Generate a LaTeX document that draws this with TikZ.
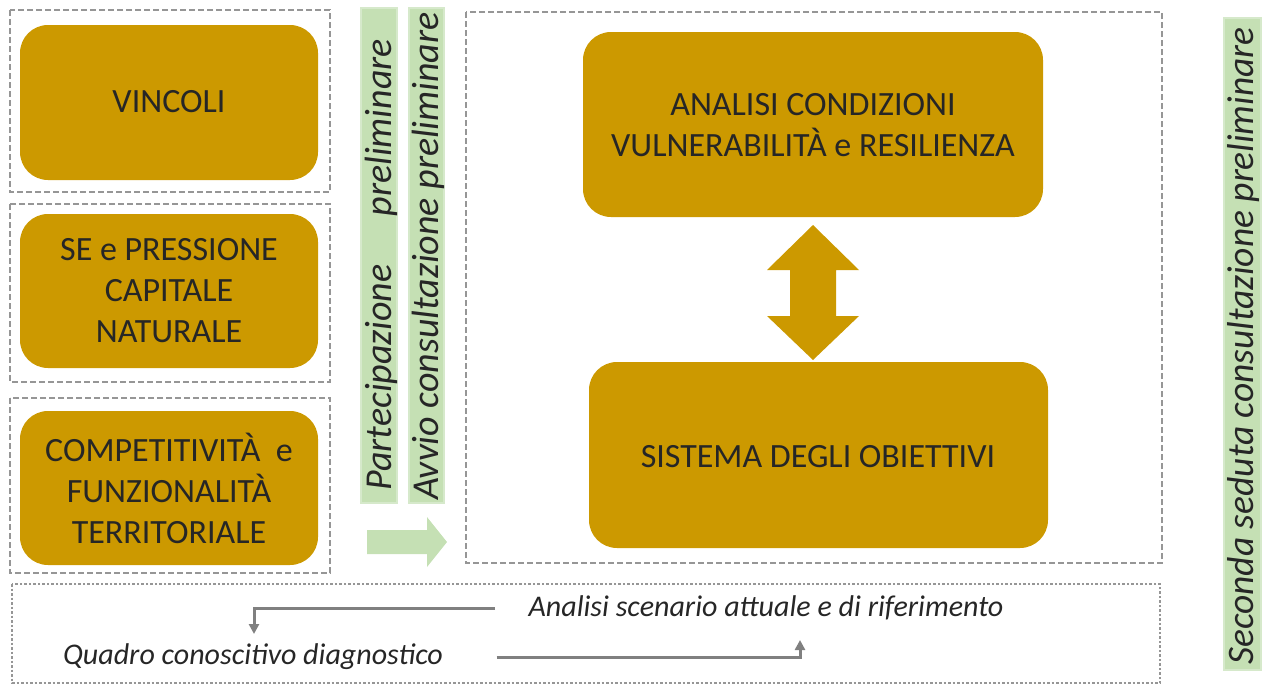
\documentclass[tikz,border=0pt]{standalone}
\usepackage{fontspec}
\setmainfont{Carlito}
\usetikzlibrary{arrows.meta}
\definecolor{gold}{RGB}{204,153,0}
\definecolor{lgreen}{RGB}{197,224,180}
\definecolor{dgray}{RGB}{150,150,150}
\definecolor{agray}{RGB}{128,128,128}
\definecolor{txt}{RGB}{38,38,38}
\tikzset{
  frame/.style={draw=dgray, line width=2pt, dash pattern=on 6pt off 3pt},
  dotframe/.style={draw=dgray, line width=2.5pt, dash pattern=on 2.5pt off 2pt},
  goldbox/.style={fill=gold, rounded corners=28pt},
  goldtext/.style={text=txt, align=center, font=\fontsize{34}{41}\selectfont},
  gbar/.style={fill=lgreen, draw=lgreen!70!white, line width=2pt},
  vtext/.style={rotate=90, text=txt, font=\fontsize{38}{44}\selectfont\itshape},
  btext/.style={text=txt, font=\fontsize{30}{34}\selectfont\itshape},
  garrow/.style={draw=agray, line width=3pt, -{Triangle[width=10pt,length=10pt]}}
}
\begin{document}
\begin{tikzpicture}[x=1pt,y=-1pt]
\useasboundingbox (0,0) rectangle (1272,686);
% left frames
\draw[frame] (10,10) rectangle (330,192);
\draw[frame] (10,204) rectangle (330,382);
\draw[frame] (10,398) rectangle (330,573);
\fill[goldbox] (20,25) rectangle (318,180);
\node[goldtext] (vinc) at (169,102) {VINCOLI};
\fill[goldbox] (20,214) rectangle (318,368);
\node[goldtext] (se) at (169,291) {SE e PRESSIONE\\CAPITALE\\NATURALE};
\fill[goldbox] (20,411) rectangle (318,565);
\node[goldtext] (comp) at (169,488) {COMPETITIVIT\`A\ \ e\\FUNZIONALIT\`A\\TERRITORIALE};
% green bars
\fill[gbar] (361,8) rectangle (397,503);
\node[vtext] (part) at (381,265) {Partecipazione\hspace{48pt}preliminare};
\fill[gbar] (409,8) rectangle (444,503);
\node[vtext] (avvio) at (428,256) {Avvio consultazione preliminare};
\fill[lgreen] (367,530) -- (427,530) -- (427,517) -- (447,542) -- (427,567) -- (427,554) -- (367,554) -- cycle;
% main frame
\draw[frame] (466,12) rectangle (1162,563);
\fill[goldbox] (583,32) rectangle (1043,217);
\node[goldtext] (anal) at (813,125) {ANALISI CONDIZIONI\\VULNERABILIT\`A e RESILIENZA};
\fill[goldbox] (589,362) rectangle (1048,548);
\node[goldtext] (sist) at (818,457) {SISTEMA DEGLI OBIETTIVI};
% double arrow
\fill[gold] (813,225) -- (859,270) -- (836,270) -- (836,316) -- (859,316) -- (813,360)
  -- (767,316) -- (790,316) -- (790,270) -- (767,270) -- cycle;
% bottom frame
\draw[dotframe] (12,584) rectangle (1160,683);
\node[btext] (asc) at (766,608) {Analisi scenario attuale e di riferimento};
\node[btext] (qcd) at (253,657) {Quadro conoscitivo diagnostico};
\coordinate (d1) at (254,634);
\coordinate (u1) at (800,640);
\draw[garrow] ([xshift=-30pt]asc.west) -| (d1);
\draw[garrow] ([xshift=50pt]qcd.east) -| (u1);
% right bar
\fill[gbar] (1224,18) rectangle (1261,670);
\node[vtext, font=\fontsize{37.5}{44}\selectfont\itshape] (sec) at (1243,346) {Seconda seduta consultazione preliminare};
\end{tikzpicture}
\end{document}
